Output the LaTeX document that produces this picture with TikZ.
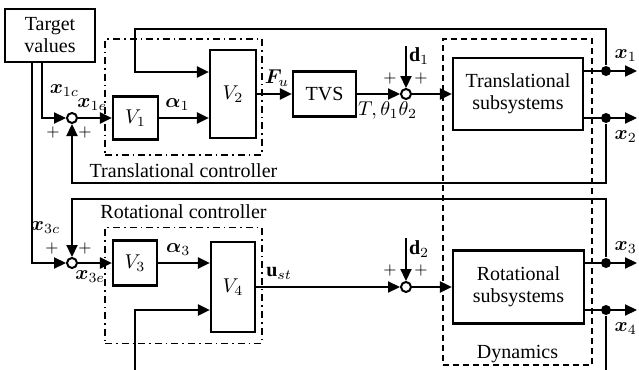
\documentclass[tikz,border=0pt]{standalone}
\usepackage{fontspec}
\setmainfont{Liberation Serif}
\usepackage{bm}
\usetikzlibrary{arrows.meta}
\begin{document}
\begin{tikzpicture}[x=0.5pt,y=-0.5pt,>={Triangle[length=6pt,width=5.5pt]},line width=1.1pt,font=\fontsize{10}{11}\selectfont]
  \tikzstyle{block}=[draw, align=center, inner sep=1pt]
  \tikzstyle{sumpt}=[draw, circle, fill=white, minimum size=5pt, inner sep=0pt, line width=1pt]
  \tikzstyle{jdot}=[circle, fill, minimum size=5pt, inner sep=0pt]
  \tikzstyle{ctrlbox}=[draw, line width=0.9pt, dash pattern=on 3.5pt off 2pt on 0.8pt off 2pt, minimum width=78.5pt, minimum height=58pt]
  \tikzstyle{plus}=[font=\fontsize{8.5}{9}\selectfont, inner sep=0pt]
  \tikzstyle{outup}=[pos=1, anchor=south east, inner sep=0pt, xshift=0.5pt, yshift=4pt]
  \tikzstyle{outdown}=[pos=1, anchor=north east, inner sep=0pt, xshift=0.5pt, yshift=-6pt]
  \useasboundingbox (0,0) rectangle (639,370);

  % frames
  \node[ctrlbox] (tctrl) at (183.5,97) {};
  \node[ctrlbox] (rctrl) at (183.5,285.5) {};
  \node[draw, line width=0.9pt, dash pattern=on 3pt off 2pt, minimum width=74.5pt, minimum height=163pt] (dyn) at (517.5,202) {};
  \node[below] at (tctrl.south) {Translational controller};
  \node[above] at (rctrl.north) {Rotational controller};
  \node[anchor=south, inner sep=1pt] at (dyn.south) {Dynamics};

  % blocks
  \node[block, minimum width=45pt, minimum height=26.5pt] (target) at (50,35.5) {Target\\values};
  \node[sumpt] (sumA) at (72,118) {};
  \node[block, minimum width=22.5pt, minimum height=21.5pt] (v1) at (135.5,118) {$V_1$};
  \node[block, minimum width=23pt, minimum height=44pt] (v2) at (233,94) {$V_2$};
  \node[block, minimum width=31.5pt, minimum height=22.5pt] (tvs) at (324.5,94) {TVS};
  \node[sumpt] (sumB) at (406,94) {};
  \node[block, minimum width=65pt, minimum height=36pt] (trans) at (518,94) {Translational\\subsystems};

  \node[sumpt] (sumC) at (72,263) {};
  \node[block, minimum width=22pt, minimum height=22.5pt] (v3) at (135,263) {$V_3$};
  \node[block, minimum width=22pt, minimum height=45pt] (v4) at (233,287) {$V_4$};
  \node[sumpt] (sumD) at (406,287) {};
  \node[block, minimum width=65.5pt, minimum height=36.5pt] (rot) at (518.5,287) {Rotational\\subsystems};

  \node[jdot] (j1) at (606,71) {};
  \node[jdot] (j2) at (606,118) {};
  \node[jdot] (j3) at (606,263) {};
  \node[jdot] (j4) at (606,310) {};

  \coordinate (out1) at (637,71);
  \coordinate (out2) at (637,118);
  \coordinate (out3) at (637,263);
  \coordinate (out4) at (637,310);
  \coordinate (d1in) at (406,46);
  \coordinate (d2in) at (406,238);
  \coordinate (fbtop) at (135,29);
  \coordinate (fbmid) at (72,183);
  \coordinate (fbrot) at (72,199);
  \coordinate (x4down) at (606,380);
  \coordinate (v4in) at (135,380);

  % plus signs
  \node[plus] at ([shift={(-19,14)}]sumA) {$+$};
  \node[plus] at ([shift={(13,14)}]sumA) {$+$};
  \node[plus] at ([shift={(-16,-16)}]sumB) {$+$};
  \node[plus] at ([shift={(15,-16)}]sumB) {$+$};
  \node[plus] at ([shift={(-20,-15)}]sumC) {$+$};
  \node[plus] at ([shift={(13,-15)}]sumC) {$+$};
  \node[plus] at ([shift={(-16,-17)}]sumD) {$+$};
  \node[plus] at ([shift={(15,-17)}]sumD) {$+$};

  % translational loop
  \draw[->] ([xshift=-4pt]target.south) |- node[pos=0.25,right] {$\bm{x}_{1c}$} (sumA);
  \draw[->] (sumA) -- node[pos=0.42,above] {$\bm{x}_{1e}$} (v1);
  \draw[->] (v1) -- node[pos=0.37,above] {$\bm{\alpha}_1$} (v1 -| v2.west);
  \draw[->] (v2) -- node[pos=0.57,above] {$\bm{F}_u$} (tvs);
  \draw[->] (tvs) -- node[pos=0.71,below] {$T,\theta_1\theta_2$} (sumB);
  \draw[->] (d1in) -- node[pos=0.25,right,inner sep=1pt] {$\mathbf{d}_1$} (sumB);
  \draw[->] (sumB) -- (trans);
  \draw[->] (trans.east |- j1) -- node[outup] {$\bm{x}_1$} (out1);
  \draw[->] (trans.east |- j2) -- node[outdown] {$\bm{x}_2$} (out2);
  \draw[->] (j1) |- (fbtop) |- ([yshift=11pt]v2.west);
  \draw[->] (j2) |- (fbmid) -- (sumA);

  % rotational loop
  \draw[->] ([xshift=-9pt]target.south) |- (sumC);
  \draw[->] (j3) |- (fbrot) -- node[midway,left=2pt] {$\bm{x}_{3c}$} (sumC);
  \draw[->] (sumC) -- node[pos=0.36,below] {$\bm{x}_{3e}$} (v3);
  \draw[->] (v3) -- node[pos=0.39,above] {$\bm{\alpha}_3$} (v3 -| v4.west);
  \draw[->] (v4in) |- ([yshift=-11.5pt]v4.west);
  \draw[->] (v4) -- node[pos=0.16,above] {$\mathbf{u}_{st}$} (sumD);
  \draw[->] (d2in) -- node[pos=0.25,right,inner sep=1pt] {$\mathbf{d}_2$} (sumD);
  \draw[->] (sumD) -- (rot);
  \draw[->] (rot.east |- j3) -- node[outup] {$\bm{x}_3$} (out3);
  \draw[->] (rot.east |- j4) -- node[outdown] {$\bm{x}_4$} (out4);
  \draw (j4) -- (x4down);
\end{tikzpicture}
\end{document}
